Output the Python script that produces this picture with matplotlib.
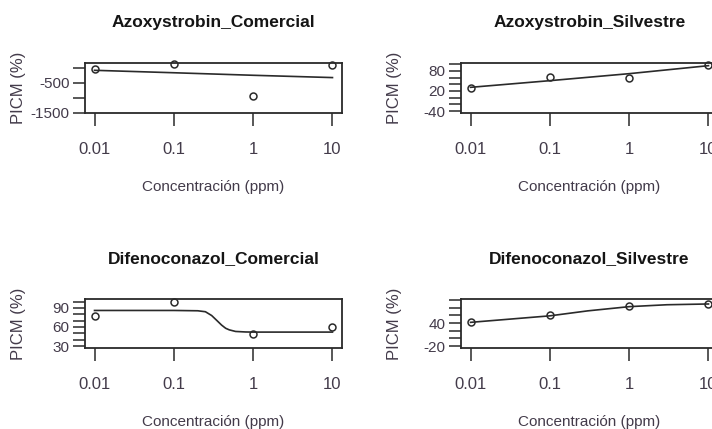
import matplotlib.pyplot as plt
from matplotlib.ticker import FixedLocator, FixedFormatter

plt.rcParams['font.family'] = ['Liberation Sans', 'DejaVu Sans']

# Data
conc = [0.01, 0.1, 1, 10]
conc_labels = ['0.01', '0.1', '1', '10']

azo_com_obs = [-22, 144, -944, 89]
azo_com_fit_x = [0.01, 0.1, 1, 10]
azo_com_fit_y = [-78, -160, -245, -322]

azo_sil_obs = [28, 63, 60, 98]
azo_sil_fit_x = [0.01, 0.1, 1, 10]
azo_sil_fit_y = [31, 51, 72, 96]

dif_com_obs = [77, 99, 49.5, 59.5]
dif_com_fit_x = [0.01, 0.1, 0.2, 0.25, 0.3, 0.35, 0.4, 0.45, 0.5, 0.6, 0.8, 1, 10]
dif_com_fit_y = [86, 86, 85.5, 84, 78, 70, 63, 58, 55.5, 53, 52.2, 52, 52]

dif_sil_obs = [42.5, 60, 85, 89.5]
dif_sil_fit_x = [0.01, 0.1, 0.3, 1, 3, 10]
dif_sil_fit_y = [42, 59, 72, 83, 88, 90]

W, H = 712, 429
TEXT = '#433b4a'
INK = '#2a2a2a'


def px_axes(fig, left, top, right, bottom):
    return fig.add_axes([left / W, 1 - bottom / H, (right - left) / W, (bottom - top) / H])


def panel(ax, title, obs, fx, fy, ylim, yticks, ylabels, box, fig):
    left, top, right, bottom = box
    ax.plot(fx, fy, color=INK, lw=1.2, clip_on=False)
    ax.plot(conc, obs, 'o', ms=5, mfc='none', mec=INK, mew=1.1, clip_on=False)
    ax.set_xscale('log')
    ax.set_xlim(10 ** -2.12, 10 ** 1.12)
    ax.set_ylim(*ylim)
    ax.xaxis.set_major_locator(FixedLocator(conc))
    ax.xaxis.set_major_formatter(FixedFormatter(conc_labels))
    ax.xaxis.set_minor_locator(FixedLocator([]))
    ax.yaxis.set_major_locator(FixedLocator(yticks))
    ax.yaxis.set_major_formatter(FixedFormatter(ylabels))
    ax.tick_params(axis='both', direction='out', length=9, width=1.1, color=INK,
                   labelcolor=TEXT)
    ax.tick_params(axis='x', pad=12, labelsize=12)
    ax.tick_params(axis='y', pad=2, labelsize=11)
    for s in ax.spines.values():
        s.set_linewidth(1.3)
        s.set_color(INK)
    cx = left + 257 / 2
    fig.text(cx / W, 1 - (top - 40) / H, title, ha='center', va='center',
             fontsize=12.5, fontweight='bold', color='#151515')
    fig.text(cx / W, 1 - (bottom + 74) / H, 'Concentración (ppm)', ha='center', va='center',
             fontsize=11, color=TEXT)
    fig.text((left - 66) / W, 1 - ((top + bottom) / 2) / H, 'PICM (%)', ha='center', va='center',
             rotation=90, fontsize=12, color=TEXT)


fig = plt.figure(figsize=(W / 100, H / 100), dpi=100)

ax1 = px_axes(fig, 85, 63, 342, 113)
panel(ax1, 'Azoxystrobin_Comercial', azo_com_obs, azo_com_fit_x, azo_com_fit_y,
      (-1510, 167), [0, -500, -1000, -1500], ['', '-500', '', '-1500'], (85, 63, 342, 113), fig)

ax2 = px_axes(fig, 461, 63, 718, 113)
panel(ax2, 'Azoxystrobin_Silvestre', azo_sil_obs, azo_sil_fit_x, azo_sil_fit_y,
      (-46, 104), [-40, -20, 0, 20, 40, 60, 80, 100], ['-40', '', '', '20', '', '', '80', ''],
      (461, 63, 718, 113), fig)

ax3 = px_axes(fig, 85, 299, 342, 348)
panel(ax3, 'Difenoconazol_Comercial', dif_com_obs, dif_com_fit_x, dif_com_fit_y,
      (27, 104), [30, 40, 50, 60, 70, 80, 90, 100], ['30', '', '', '60', '', '', '90', ''],
      (85, 299, 342, 348), fig)

ax4 = px_axes(fig, 461, 299, 718, 348)
panel(ax4, 'Difenoconazol_Silvestre', dif_sil_obs, dif_sil_fit_x, dif_sil_fit_y,
      (-25, 103), [-20, 0, 20, 40, 60, 80, 100], ['-20', '', '', '40', '', '', ''],
      (461, 299, 718, 348), fig)

fig.savefig('out.png', dpi=100)
